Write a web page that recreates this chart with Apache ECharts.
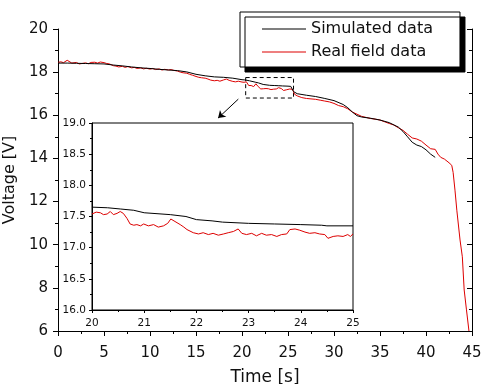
<!DOCTYPE html>
<html><head><meta charset="utf-8">
<script src="https://cdn.jsdelivr.net/npm/echarts@6/dist/echarts.min.js"></script>
<style>html,body{margin:0;padding:0;background:#fff}#c{width:490px;height:384px}</style>
</head><body><div id="c"></div>
<script>
// ---- data (time [s], voltage [V]) ----
const simEarly = [[0,18.42],[1,18.42],[2,18.41],[3,18.40],[4,18.39],[5,18.38],[6,18.33],[7,18.29],[8,18.24],[9,18.20],[10,18.17],[11,18.13],[12,18.10],[13,18.07],[14,18.01],[15,17.90],[16,17.83],[17,17.78],[18,17.76],[19,17.72]];
const simZoom = [[20.0,17.65],[20.3,17.64],[20.55,17.62],[20.8,17.60],[21.0,17.56],[21.5,17.53],[21.8,17.50],[22.0,17.45],[22.3,17.43],[22.5,17.41],[23.0,17.39],[23.5,17.38],[24.0,17.37],[24.4,17.36],[24.5,17.35],[25.0,17.35]];
const simLate = [[25.3,17.34],[25.6,17.10],[26,17.00],[27,16.93],[28,16.87],[29,16.78],[30,16.68],[31,16.50],[31.5,16.35],[32,16.15],[32.5,15.98],[33,15.92],[34,15.86],[35,15.78],[36,15.66],[37,15.45],[37.5,15.25],[38,15.00],[38.5,14.75],[39,14.62],[39.5,14.55],[40,14.40],[40.5,14.20],[41,14.05]];

const realEarly = [[0,18.45],[0.3,18.48],[0.6,18.44],[1.0,18.55],[1.2,18.50],[1.5,18.42],[2,18.45],[2.3,18.38],[2.6,18.40],[3,18.43],[3.3,18.39],[3.6,18.45],[4,18.46],[4.3,18.42],[4.6,18.47],[5,18.44],[5.3,18.40],[5.6,18.38],[6,18.30],[6.3,18.28],[6.6,18.24],[7,18.27],[7.3,18.22],[7.6,18.26],[8,18.20],[8.3,18.22],[8.6,18.17],[9,18.20],[9.3,18.15],[9.6,18.18],[10,18.14],[10.3,18.17],[10.6,18.12],[11,18.15],[11.3,18.10],[11.6,18.13],[12,18.10],[12.3,18.12],[12.6,18.08],[13,18.05],[13.3,18.00],[13.6,17.97],[14,17.95],[14.3,17.90],[14.6,17.86],[15,17.80],[15.3,17.76],[15.6,17.74],[16,17.72],[16.3,17.68],[16.6,17.63],[17,17.60],[17.3,17.62],[17.6,17.58],[18,17.64],[18.3,17.68],[18.6,17.62],[19,17.57],[19.3,17.55],[19.6,17.58]];
const realZoom = [[20.0,17.54],[20.08,17.57],[20.16,17.56],[20.22,17.53],[20.29,17.54],[20.35,17.58],[20.41,17.53],[20.48,17.55],[20.54,17.58],[20.6,17.55],[20.67,17.47],[20.73,17.38],[20.8,17.36],[20.86,17.37],[20.93,17.35],[20.99,17.38],[21.08,17.35],[21.18,17.37],[21.27,17.33],[21.37,17.35],[21.45,17.39],[21.51,17.46],[21.59,17.42],[21.69,17.37],[21.76,17.33],[21.82,17.29],[21.94,17.24],[22.04,17.22],[22.13,17.24],[22.23,17.21],[22.32,17.23],[22.42,17.20],[22.52,17.22],[22.61,17.24],[22.71,17.26],[22.8,17.30],[22.87,17.23],[22.96,17.21],[23.06,17.23],[23.15,17.19],[23.25,17.23],[23.34,17.20],[23.44,17.21],[23.54,17.18],[23.63,17.21],[23.73,17.22],[23.79,17.29],[23.89,17.30],[23.98,17.28],[24.08,17.25],[24.17,17.23],[24.27,17.24],[24.36,17.22],[24.46,17.21],[24.52,17.15],[24.62,17.18],[24.71,17.19],[24.81,17.18],[24.9,17.21],[24.95,17.18],[25.0,17.22]];
const realLate = [[25.2,17.22],[25.5,17.20],[25.7,16.98],[26,16.90],[26.5,16.82],[27,16.78],[27.5,16.76],[28,16.74],[28.5,16.70],[29,16.66],[29.5,16.62],[30,16.55],[30.5,16.45],[31,16.40],[31.5,16.30],[32,16.15],[32.5,16.05],[33,15.95],[33.5,15.90],[34,15.85],[34.5,15.82],[35,15.78],[35.5,15.70],[36,15.62],[36.5,15.55],[37,15.42],[37.5,15.30],[38,15.12],[38.5,14.95],[39,14.90],[39.5,14.80],[40,14.62],[40.5,14.45],[41,14.42],[41.3,14.20],[41.6,14.05],[42,13.97],[42.5,13.80],[42.8,13.68],[42.95,13.35],[43.15,12.53],[43.35,11.60],[43.7,10.22],[43.95,9.44],[44.15,7.90],[44.4,6.98],[44.67,6.00]];

const seriesNames = ['Simulated data','Real field data'];
const zoomBox = [[20.4,17.75],[25.6,16.8]];
const arrowFrom = [19.6,16.75];
const arrowTo = [17.4,15.87];

const FONT = 'DejaVu Sans';
const simMain = simEarly.concat(simZoom, simLate);
const realMain = realEarly.concat(realZoom, realLate);

const blk = '#000', red = '#dd0000', txt = '#111';
function axisCommon(extra){
  return Object.assign({
    type:'value',
    axisLine:{show:true,onZero:false,lineStyle:{color:blk,width:1}},
    axisTick:{show:true,length:5,lineStyle:{color:blk,width:1}},
    minorTick:{show:true,splitNumber:2,length:3,lineStyle:{color:blk,width:1}},
    splitLine:{show:false},
    axisLabel:{color:txt,fontFamily:FONT,fontSize:15}
  }, extra);
}

const chart = echarts.init(document.getElementById('c'), null, {renderer:'canvas'});
chart.setOption({
  animation:false,
  backgroundColor:'#fff',
  grid:[
    {left:58,top:29,width:414,height:302,show:false,containLabel:false,outerBoundsMode:'none'},
    {left:92,top:123,width:261,height:187,show:true,borderColor:blk,borderWidth:1,backgroundColor:'#fff',containLabel:false,outerBoundsMode:'none'}
  ],
  legend:{
    data:seriesNames, orient:'vertical', left:240, top:12,
    icon:'rect', itemWidth:44, itemHeight:1, itemGap:3,
    backgroundColor:'#fff', borderColor:blk, borderWidth:1,
    shadowColor:'#000', shadowBlur:0, shadowOffsetX:5, shadowOffsetY:5,
    padding:[7,27,5,22],
    textStyle:{color:txt,fontFamily:FONT,fontSize:16,lineHeight:20},
    selectedMode:false
  },
  xAxis:[
    axisCommon({gridIndex:0,min:0,max:45,interval:5,
      axisLabel:{color:txt,fontFamily:FONT,fontSize:15,margin:15},
      name:'Time [s]',nameLocation:'middle',nameGap:38,
      nameTextStyle:{color:txt,fontFamily:FONT,fontSize:17}}),
    axisCommon({gridIndex:1,min:20,max:25,interval:1,
      axisTick:{show:true,length:3,lineStyle:{color:blk}},
      minorTick:{show:true,splitNumber:2,length:2,lineStyle:{color:blk}},
      axisLabel:{color:txt,fontFamily:FONT,fontSize:10.5,margin:8}})
  ],
  yAxis:[
    axisCommon({gridIndex:0,min:6,max:20,interval:2,
      axisLabel:{color:txt,fontFamily:FONT,fontSize:15,margin:10},
      name:'Voltage [V]',nameLocation:'middle',nameGap:31,
      nameTextStyle:{color:txt,fontFamily:FONT,fontSize:16}}),
    axisCommon({gridIndex:0,min:6,max:20,interval:2,position:'right',
      axisTick:{show:true,inside:true,length:5,lineStyle:{color:blk}},
      axisLabel:{show:false}}),
    axisCommon({gridIndex:1,min:16,max:19,interval:0.5,
      axisTick:{show:true,length:3,lineStyle:{color:blk}},
      minorTick:{show:true,splitNumber:2,length:2,lineStyle:{color:blk}},
      axisLabel:{color:txt,fontFamily:FONT,fontSize:10.5,margin:6,formatter:v=>v.toFixed(1)}})
  ],
  series:[
    {name:seriesNames[0],type:'line',xAxisIndex:0,yAxisIndex:0,data:simMain,symbol:'none',
     lineStyle:{color:blk,width:1},itemStyle:{color:blk},z:3,
     markArea:{silent:true,label:{show:false},
       itemStyle:{color:'rgba(0,0,0,0)',borderColor:blk,borderWidth:1,borderType:[4,3]},
       data:[[{coord:zoomBox[0]},{coord:zoomBox[1]}]]},
     markLine:{silent:true,symbol:['none','arrow'],symbolSize:7,label:{show:false},
       lineStyle:{color:blk,width:1,type:'solid'},
       data:[[{coord:arrowFrom},{coord:arrowTo}]]}},
    {name:seriesNames[1],type:'line',xAxisIndex:0,yAxisIndex:0,data:realMain,symbol:'none',
     lineStyle:{color:red,width:1},itemStyle:{color:red},z:2},
    {name:seriesNames[0],type:'line',xAxisIndex:1,yAxisIndex:2,data:simZoom,symbol:'none',
     lineStyle:{color:blk,width:1},itemStyle:{color:blk}},
    {name:seriesNames[1],type:'line',xAxisIndex:1,yAxisIndex:2,data:realZoom,symbol:'none',
     lineStyle:{color:red,width:1},itemStyle:{color:red}}
  ]
});
</script></body></html>
